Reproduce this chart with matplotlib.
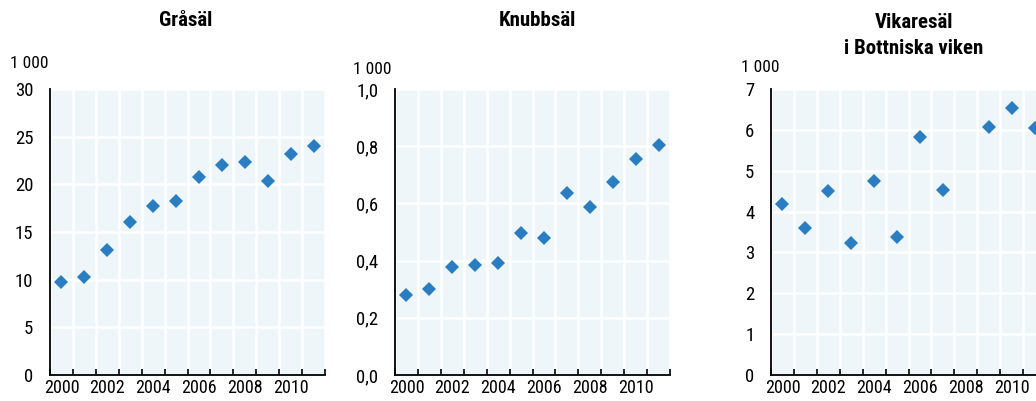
import matplotlib
matplotlib.use('Agg')
import matplotlib.pyplot as plt
import numpy as np

plt.rcParams['font.family'] = ['Roboto Condensed', 'Liberation Sans', 'DejaVu Sans']

years = list(range(2000, 2012))
year_labels = ['2000', '2002', '2004', '2006', '2008', '2010']

# thousand animals
grasal = [9.73, 10.33, 13.1, 16.0, 17.7, 18.3, 20.75, 22.05, 22.3, 20.4, 23.2, 24.0]
knubbsal = [0.28, 0.299, 0.378, 0.384, 0.39, 0.498, 0.48, 0.638, 0.589, 0.676, 0.755, 0.804]
vikaresal = [4.19, 3.59, 4.51, 3.22, 4.76, 3.37, 5.83, 4.53, np.nan, 6.08, 6.54, 6.05]

panels = [
    ('Gråsäl', grasal, [0, 5, 10, 15, 20, 25, 30], ['0', '5', '10', '15', '20', '25', '30']),
    ('Knubbsäl', knubbsal, [0, 0.2, 0.4, 0.6, 0.8, 1.0], ['0,0', '0,2', '0,4', '0,6', '0,8', '1,0']),
    ('Vikaresäl\ni Bottniska viken', vikaresal, [0, 1, 2, 3, 4, 5, 6, 7],
     ['0', '1', '2', '3', '4', '5', '6', '7']),
]

W, H = 1036, 401
fig = plt.figure(figsize=(W / 100, H / 100), dpi=100)

lefts = [50, 395, 771]
title_pos = [(186, [21]), (537, [21]), (914, [23, 49])]
unit_pos = [(-0.007, 1.088), (-0.011, 1.068), (0.03, 1.076)]
bg = '#EEF6FA'
blue = '#2A7DC1'

x = np.arange(len(years))
for i, (title, vals, yt, ytl) in enumerate(panels):
    ax = fig.add_axes([lefts[i] / W, 26 / H, 275 / W, 286 / H])
    ax.set_facecolor(bg)
    ax.plot(x, vals, linestyle='none', marker='D', markersize=7.4, color=blue,
            markeredgewidth=0, zorder=3, clip_on=False)
    ax.set_xlim(-0.5, len(years) - 0.5)
    ax.set_ylim(yt[0], yt[-1])

    # boundaries between years carry ticks and grid, labels sit at year centres
    ax.set_xticks(np.arange(-0.5, len(years), 1.0))
    ax.set_xticklabels([])
    ax.set_xticks(x[::2], minor=True)
    ax.set_xticklabels(year_labels, minor=True, fontsize=13)
    ax.tick_params(axis='x', which='major', direction='in', length=4, width=1.2, color='black')
    ax.tick_params(axis='x', which='minor', length=0, pad=3)

    ax.set_yticks(yt)
    ax.set_yticklabels(ytl, fontsize=13.5)
    ax.tick_params(axis='y', length=0, pad=12)

    ax.grid(True, which='major', color='white', linewidth=1.8)
    ax.set_axisbelow(True)
    for side in ['top', 'right']:
        ax.spines[side].set_visible(False)
    for side in ['left', 'bottom']:
        ax.spines[side].set_linewidth(1.3)
        ax.spines[side].set_color('black')

    ux, uy = unit_pos[i]
    ax.text(ux, uy, '1 000', transform=ax.transAxes, ha='right', va='center', fontsize=12.5)

    tx, tys = title_pos[i]
    for line, ty in zip(title.split('\n'), tys):
        fig.text(tx / W, 1 - ty / H, line, ha='center', va='center',
                 fontsize=15, fontweight='bold')

fig.savefig('out.png', dpi=100)
